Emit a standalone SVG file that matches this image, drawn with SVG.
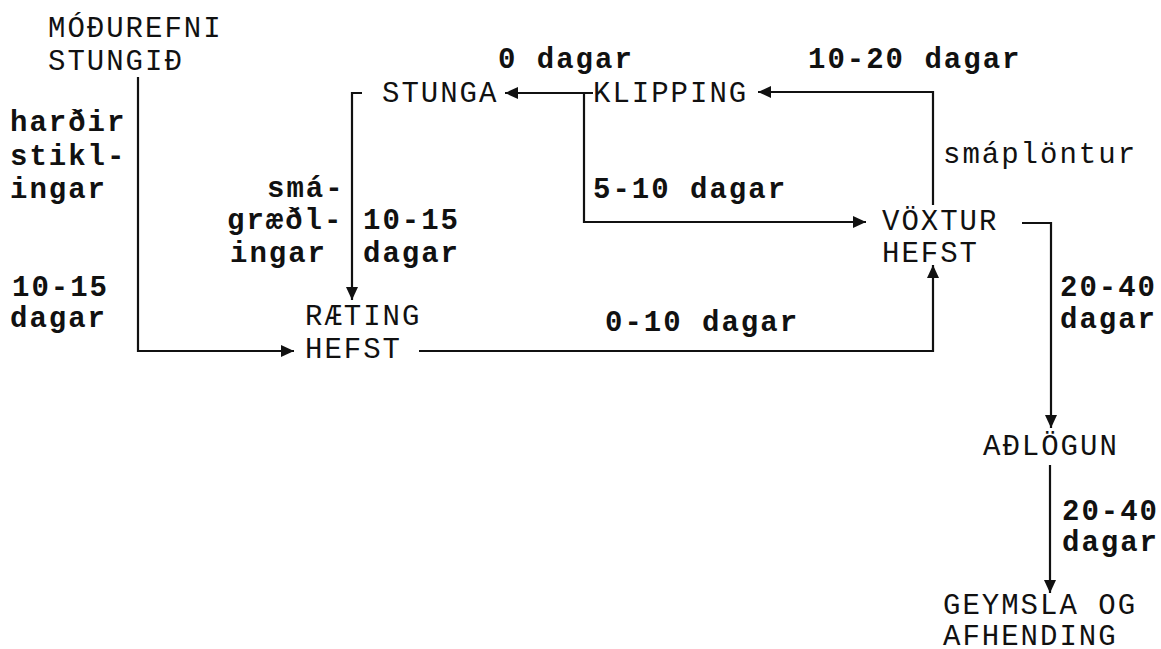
<svg xmlns="http://www.w3.org/2000/svg" width="1161" height="649" viewBox="0 0 1161 649">
<style>
text{font-family:"Liberation Mono","Courier New",monospace;font-size:29px;letter-spacing:2px;fill:#111}
.b{font-weight:bold}
.c{fill:none;stroke:#111;stroke-width:2.2}
</style>
<defs>
<marker id="ah" markerUnits="userSpaceOnUse" markerWidth="14" markerHeight="12" refX="13" refY="6" orient="auto">
<path d="M0,0 L13,6 L0,12 Z" fill="#111"/>
</marker>
</defs>
<rect width="1161" height="649" fill="#fff"/>
<g id="connectors">
<path class="c" d="M138,77 V351 H294" marker-end="url(#ah)"/>
<path class="c" d="M362,93 H352 V300" marker-end="url(#ah)"/>
<path class="c" d="M593,93 H505" marker-end="url(#ah)"/>
<path class="c" d="M584,93 V222 H866" marker-end="url(#ah)"/>
<path class="c" d="M933,205 V92 H758" marker-end="url(#ah)"/>
<path class="c" d="M419,351 H933 V265" marker-end="url(#ah)"/>
<path class="c" d="M1022,223 H1051 V428" marker-end="url(#ah)"/>
<path class="c" d="M1050,465 V593" marker-end="url(#ah)"/>
</g>
<g id="labels">
<text class="b" x="10" y="131">harðir</text>
<text class="b" x="10" y="165">stikl-</text>
<text class="b" x="10" y="198">ingar</text>
<text class="b" x="12" y="296">10-15</text>
<text class="b" x="10" y="327">dagar</text>
<text class="b" x="267" y="197">smá-</text>
<text class="b" x="227" y="229">græðl-</text>
<text class="b" x="230" y="262">ingar</text>
<text class="b" x="363" y="229">10-15</text>
<text class="b" x="363" y="262">dagar</text>
<text class="b" x="498" y="68">0 dagar</text>
<text class="b" x="808" y="68">10-20 dagar</text>
<text x="943" y="163">smáplöntur</text>
<text class="b" x="593" y="198">5-10 dagar</text>
<text class="b" x="605" y="331">0-10 dagar</text>
<text class="b" x="1060" y="296">20-40</text>
<text class="b" x="1060" y="328">dagar</text>
<text class="b" x="1062" y="520">20-40</text>
<text class="b" x="1062" y="551">dagar</text>
</g>
<g id="n-modurefni"><text x="48" y="37">MÓÐUREFNI</text><text x="48" y="70">STUNGIÐ</text></g>
<g id="n-stunga"><text x="382" y="102">STUNGA</text></g>
<g id="n-klipping"><text x="593" y="102">KLIPPING</text></g>
<g id="n-voxtur"><text x="882" y="230">VÖXTUR</text><text x="882" y="262">HEFST</text></g>
<g id="n-raeting"><text x="305" y="325">RÆTING</text><text x="305" y="358">HEFST</text></g>
<g id="n-adlogun"><text x="983" y="455">AÐLÖGUN</text></g>
<g id="n-geymsla"><text x="943" y="614">GEYMSLA OG</text><text x="943" y="645">AFHENDING</text></g>
</svg>
